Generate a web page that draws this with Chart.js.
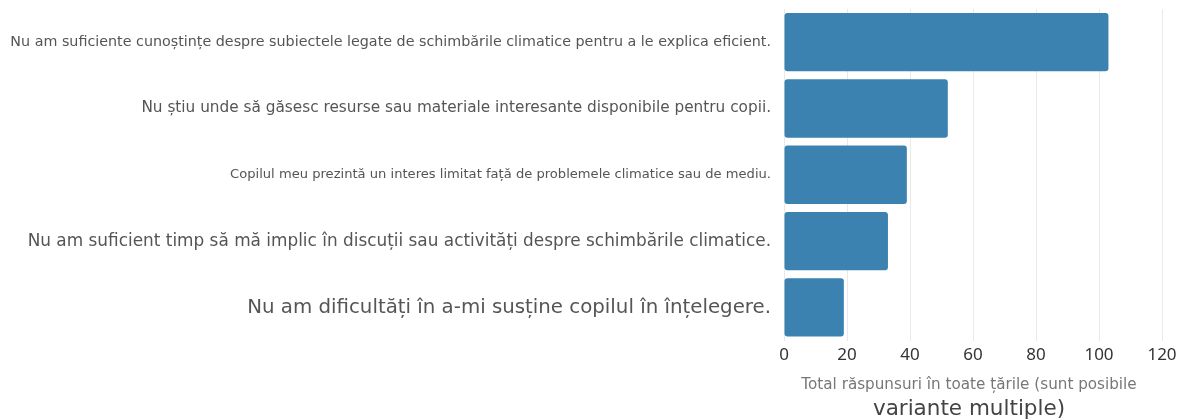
<!DOCTYPE html>
<html>
<head>
<meta charset="utf-8">
<script src="https://cdn.jsdelivr.net/npm/chart.js@4.4.0/dist/chart.umd.min.js"></script>
<style>
  html, body { margin: 0; padding: 0; background: #fff; }
  #wrap { width: 1186px; height: 419px; position: relative; }
</style>
</head>
<body>
<div id="wrap"><canvas id="chart-barriers"></canvas></div>
<script>
/* ── data ── */
const categories = [
  'Nu am suficiente cunoștințe despre subiectele legate de schimbările climatice pentru a le explica eficient.',
  'Nu știu unde să găsesc resurse sau materiale interesante disponibile pentru copii.',
  'Copilul meu prezintă un interes limitat față de problemele climatice sau de mediu.',
  'Nu am suficient timp să mă implic în discuții sau activități despre schimbările climatice.',
  'Nu am dificultăți în a-mi susține copilul în înțelegere.',
];
const responses = [103, 52, 39, 33, 19];
const axisTitle = ['Total răspunsuri în toate țările (sunt posibile', 'variante multiple)'];

/* label sizes differ per row in the original */
const labelSizes = [14.3, 15.3, 13.1, 16.9, 19.8];

const C = {
  bar     : '#3b82b0',
  grid    : '#e9e9e9',
  tick    : '#333333',
  label   : '#555555',
  title1  : '#777777',
  title2  : '#444444',
};
const FONT  = '"Noto Sans", "Open Sans", sans-serif';
const LFONT = '"DejaVu Sans", sans-serif';

/* two-line axis title with different sizes */
const axisTitlePlugin = {
  id: 'axisTitle',
  afterDraw(chart) {
    const { ctx, chartArea } = chart;
    const cx = (chartArea.left + chartArea.right) / 2 - 4;
    ctx.save();
    ctx.textAlign = 'center';
    ctx.textBaseline = 'middle';
    ctx.fillStyle = C.title1;
    ctx.font = `15.2px ${LFONT}`;
    ctx.fillText(axisTitle[0], cx, 385);
    ctx.fillStyle = C.title2;
    ctx.font = `21.5px ${LFONT}`;
    ctx.fillText(axisTitle[1], cx, 409);
    ctx.restore();
  },
};

new Chart(document.getElementById('chart-barriers'), {
  type: 'bar',
  data: {
    labels: categories,
    datasets: [{
      data: responses,
      backgroundColor: C.bar,
      borderRadius: 3,
      borderSkipped: false,
      barPercentage: 0.88,
      categoryPercentage: 1,
    }],
  },
  options: {
    indexAxis: 'y',
    responsive: true,
    maintainAspectRatio: false,
    animation: false,
    layout: { padding: { top: 9, right: 24, bottom: 50, left: 0 } },
    plugins: {
      legend : { display: false },
      tooltip: { enabled: false },
    },
    scales: {
      x: {
        min: 0,
        max: 120,
        ticks : { stepSize: 20, color: C.tick, padding: 4, font: { family: FONT, size: 17 } },
        grid  : { color: C.grid, drawTicks: false },
        border: { display: false },
      },
      y: {
        /* fixed label column; no extra top/bottom overflow from the big labels */
        afterFit: s => { s.width = 784; s.paddingTop = 0; s.paddingBottom = 0; },
        grid  : { display: false, drawTicks: false },
        border: { display: false },
        ticks : {
          color: C.label,
          padding: 13,
          font: ctx => ({ family: LFONT, size: labelSizes[ctx.index] }),
        },
      },
    },
  },
  plugins: [axisTitlePlugin],
});
</script>
</body>
</html>
